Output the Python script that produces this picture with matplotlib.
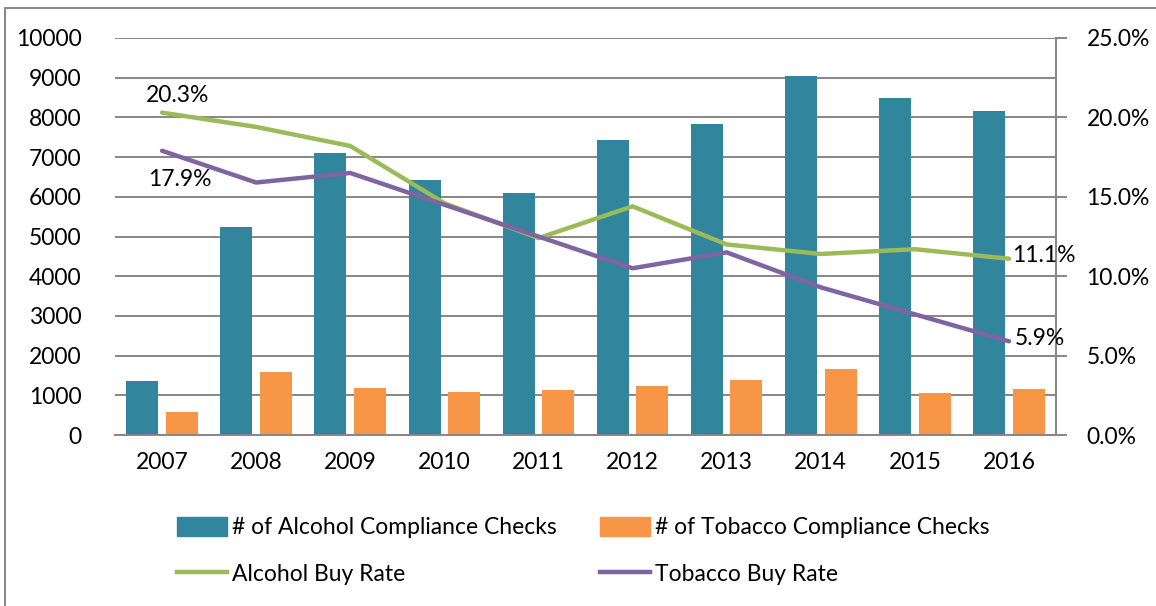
import matplotlib.pyplot as plt
import numpy as np
from matplotlib.lines import Line2D
from matplotlib.patches import Patch, Rectangle
from matplotlib.ticker import FuncFormatter

plt.rcParams["font.family"] = ["Lato", "DejaVu Sans"]

years = ["2007", "2008", "2009", "2010", "2011", "2012", "2013", "2014", "2015", "2016"]
alcohol_checks = [1350, 5250, 7100, 6430, 6100, 7430, 7830, 9040, 8490, 8170]
tobacco_checks = [580, 1590, 1180, 1080, 1130, 1230, 1380, 1660, 1060, 1160]
alcohol_rate = [20.3, 19.4, 18.2, 14.6, 12.4, 14.4, 12.0, 11.4, 11.7, 11.1]
tobacco_rate = [17.9, 15.9, 16.5, 14.5, 12.5, 10.5, 11.5, 9.3, 7.6, 5.9]

TEAL = "#31859C"
ORANGE = "#F79646"
GREEN = "#9BBB59"
PURPLE = "#8064A2"
GRID = "#868686"
FS = 16.5

fig = plt.figure(figsize=(11.56, 6.06), dpi=100)
ax = fig.add_axes([115 / 1156, 1 - 435 / 606, (1056 - 115) / 1156, (435 - 38) / 606])
ax2 = ax.twinx()

x = np.arange(len(years))
w = 0.34
ax.bar(x - 0.21, alcohol_checks, w, color=TEAL, zorder=2)
ax.bar(x + 0.21, tobacco_checks, w, color=ORANGE, zorder=2)
ax.set_xlim(-0.5, len(years) - 0.5)
ax.set_ylim(0, 10000)
ax.set_yticks(range(0, 10001, 1000))
ax.yaxis.grid(True, color=GRID, linewidth=1.4, zorder=0)
ax.set_axisbelow(True)
ax.set_xticks(x)
ax.set_xticklabels(years)
ax.tick_params(axis="both", length=0, labelsize=FS, pad=12)
ax.tick_params(axis="y", pad=24)
for s in ["left", "top", "right"]:
    ax.spines[s].set_visible(False)
ax.spines["bottom"].set_color(GRID)
ax.spines["bottom"].set_linewidth(1.4)

ax2.plot(x, alcohol_rate, color=GREEN, linewidth=3.2, solid_capstyle="round", zorder=3)
ax2.plot(x, tobacco_rate, color=PURPLE, linewidth=3.2, solid_capstyle="round", zorder=3)
ax2.set_ylim(0, 25)
ax2.set_yticks(np.arange(0, 25.1, 5))
ax2.yaxis.set_major_formatter(FuncFormatter(lambda v, _: f"{v:.1f}%"))
ax2.tick_params(axis="y", direction="out", length=8, width=1.4, color=GRID, labelsize=FS, pad=14)
for s in ["left", "top", "bottom"]:
    ax2.spines[s].set_visible(False)
ax2.spines["right"].set_color(GRID)
ax2.spines["right"].set_linewidth(1.4)

ax2.annotate(f"{alcohol_rate[0]:.1f}%", (x[0], alcohol_rate[0]), xytext=(-12, 5),
             textcoords="offset points", fontsize=FS, va="bottom", ha="left")
ax2.annotate(f"{tobacco_rate[0]:.1f}%", (x[0], tobacco_rate[0]), xytext=(-10, -13),
             textcoords="offset points", fontsize=FS, va="top", ha="left")
ax2.annotate(f"{alcohol_rate[-1]:.1f}%", (x[-1], alcohol_rate[-1]), xytext=(2, 2),
             textcoords="offset points", fontsize=FS, va="center", ha="left")
ax2.annotate(f"{tobacco_rate[-1]:.1f}%", (x[-1], tobacco_rate[-1]), xytext=(4, 2),
             textcoords="offset points", fontsize=FS, va="center", ha="left")

# column-major order so the rows read bars / lines
handles = [
    Patch(color=TEAL, label="# of Alcohol Compliance Checks"),
    Line2D([], [], color=GREEN, linewidth=3.2, label="Alcohol Buy Rate"),
    Patch(color=ORANGE, label="# of Tobacco Compliance Checks"),
    Line2D([], [], color=PURPLE, linewidth=3.2, label="Tobacco Buy Rate"),
]
fig.legend(handles=handles, ncol=2, loc="upper left", bbox_to_anchor=(156 / 1156, 1 - 496 / 606),
           frameon=False, fontsize=FS, handlelength=2.2, handleheight=0.9, handletextpad=0.2,
           columnspacing=1.9, labelspacing=1.1)

fig.patches.append(Rectangle((5 / 1156, -0.01), 1.0, 1 - 8 / 606 + 0.01, transform=fig.transFigure,
                             fill=False, edgecolor=GRID, linewidth=1.4))

fig.savefig("out.png", dpi=100)
